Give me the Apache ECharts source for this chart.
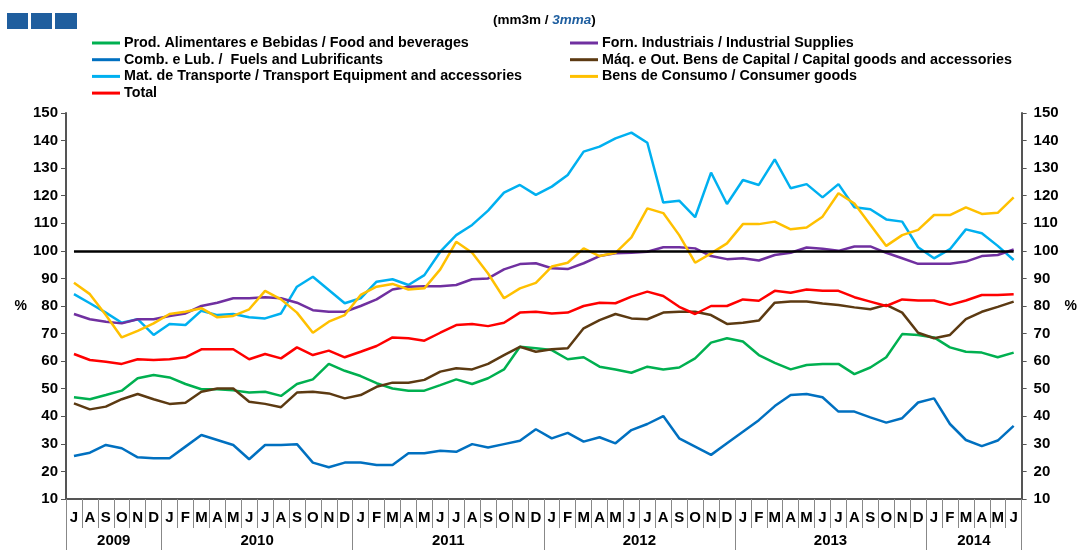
<!DOCTYPE html>
<html>
<head>
<meta charset="utf-8">
<script src="https://cdn.jsdelivr.net/npm/echarts@6/dist/echarts.min.js"></script>
<style>
  html, body { margin: 0; padding: 0; background: #fff; }
  #chart { width: 1080px; height: 550px; }
</style>
</head>
<body>
<div id="chart"></div>
<script>
// month letters, Jul 2009 .. Jun 2014
const months = [
  "J", "A", "S", "O", "N", "D",
  "J", "F", "M", "A", "M", "J", "J", "A", "S", "O", "N", "D",
  "J", "F", "M", "A", "M", "J", "J", "A", "S", "O", "N", "D",
  "J", "F", "M", "A", "M", "J", "J", "A", "S", "O", "N", "D",
  "J", "F", "M", "A", "M", "J", "J", "A", "S", "O", "N", "D",
  "J", "F", "M", "A", "M", "J"
];
const years = ["2009", "2010", "2011", "2012", "2013", "2014"];
const monthsPerYear = [6, 12, 12, 12, 12, 6];

const food = [46.9, 46.2, 47.7, 49.3, 53.8, 55.0, 54.1, 51.7, 49.8, 49.8, 49.4, 48.6, 48.9, 47.4, 51.7, 53.4, 59.0, 56.5, 54.6, 52.0, 50.1, 49.3, 49.3, 51.3, 53.4, 51.7, 53.8, 57.0, 65.2, 64.7, 64.0, 60.7, 61.4, 58.0, 57.0, 55.8, 58.0, 57.0, 57.7, 61.0, 66.7, 68.3, 67.1, 62.2, 59.4, 57.0, 58.6, 59.0, 59.0, 55.3, 57.7, 61.4, 69.8, 69.5, 68.6, 65.0, 63.4, 63.1, 61.4, 63.1];
const fuels = [25.6, 26.8, 29.6, 28.4, 25.1, 24.8, 24.8, 29.0, 33.2, 31.4, 29.6, 24.4, 29.6, 29.6, 29.9, 23.2, 21.5, 23.2, 23.2, 22.3, 22.3, 26.6, 26.6, 27.5, 27.1, 29.9, 28.7, 29.9, 31.1, 35.3, 32.0, 34.0, 30.8, 32.4, 30.2, 35.0, 37.2, 40.1, 32.0, 29.0, 26.0, 30.2, 34.4, 38.6, 43.7, 47.7, 48.1, 46.9, 41.7, 41.7, 39.6, 37.7, 39.3, 45.0, 46.5, 37.2, 31.4, 29.2, 31.2, 36.5];
const transport = [84.3, 81.0, 77.6, 73.9, 75.2, 69.5, 73.5, 73.1, 78.3, 76.7, 77.1, 75.9, 75.5, 77.3, 87.0, 90.6, 85.8, 81.0, 82.8, 88.8, 89.7, 87.6, 91.2, 99.7, 105.7, 109.4, 114.6, 121.1, 123.9, 120.3, 123.3, 127.5, 136.0, 137.8, 140.8, 142.9, 139.2, 117.5, 118.2, 112.2, 128.4, 117.0, 125.7, 123.9, 133.2, 122.7, 124.2, 119.4, 124.2, 115.8, 115.1, 111.4, 110.6, 101.3, 97.3, 100.6, 107.8, 106.4, 101.8, 96.7];
const total = [62.6, 60.4, 59.8, 59.0, 60.7, 60.4, 60.7, 61.4, 64.3, 64.3, 64.3, 60.7, 62.6, 61.0, 65.0, 62.2, 63.8, 61.4, 63.4, 65.5, 68.6, 68.3, 67.4, 70.3, 73.1, 73.5, 72.7, 73.9, 77.6, 77.9, 77.3, 77.6, 80.0, 81.2, 81.0, 83.4, 85.2, 83.6, 79.7, 77.1, 80.0, 80.0, 82.4, 81.9, 85.5, 84.8, 86.0, 85.5, 85.5, 83.2, 81.6, 80.0, 82.4, 82.0, 82.0, 80.4, 82.0, 84.0, 84.0, 84.3];
const industrial = [77.1, 75.2, 74.3, 73.7, 75.2, 75.2, 76.4, 77.3, 80.0, 81.2, 82.8, 82.8, 83.2, 82.8, 81.2, 78.5, 77.9, 77.9, 80.0, 82.4, 86.0, 87.0, 87.2, 87.2, 87.6, 89.7, 90.0, 93.3, 95.2, 95.5, 93.7, 93.4, 95.5, 98.1, 99.1, 99.3, 99.7, 101.3, 101.3, 100.9, 98.1, 97.0, 97.3, 96.5, 98.5, 99.3, 101.2, 100.8, 100.0, 101.6, 101.6, 99.3, 97.3, 95.3, 95.3, 95.3, 96.1, 98.1, 98.5, 100.5];
const capital = [44.7, 42.5, 43.5, 46.2, 48.1, 46.2, 44.5, 44.9, 48.9, 50.1, 50.1, 45.3, 44.5, 43.3, 48.6, 48.9, 48.3, 46.5, 47.7, 50.7, 52.2, 52.2, 53.2, 56.2, 57.4, 57.0, 59.0, 62.2, 65.2, 63.4, 64.3, 64.7, 71.9, 74.9, 77.1, 75.5, 75.2, 77.6, 77.9, 77.9, 76.7, 73.5, 73.9, 74.7, 81.2, 81.6, 81.6, 80.9, 80.4, 79.5, 78.8, 80.4, 77.6, 70.3, 68.3, 69.5, 75.2, 77.9, 79.7, 81.6];
const consumer = [88.4, 84.3, 76.7, 68.6, 71.0, 73.7, 77.1, 77.9, 79.2, 75.9, 76.4, 78.8, 85.5, 82.4, 77.6, 70.3, 74.3, 76.7, 84.0, 87.0, 88.0, 86.0, 86.4, 93.3, 103.3, 99.3, 91.8, 82.8, 86.4, 88.4, 94.3, 95.7, 100.9, 98.1, 99.3, 104.9, 115.4, 113.7, 105.7, 95.7, 99.1, 102.7, 109.7, 109.7, 110.6, 107.8, 108.5, 112.4, 120.9, 117.2, 109.5, 101.8, 105.7, 107.6, 113.0, 113.0, 115.8, 113.4, 113.8, 119.4];
const refLevel = 100;

const names = {
  food: "Prod. Alimentares e Bebidas / Food and beverages",
  fuels: "Comb. e Lub. /  Fuels and Lubrificants",
  transport: "Mat. de Transporte / Transport Equipment and accessories",
  total: "Total",
  industrial: "Forn. Industriais / Industrial Supplies",
  capital: "Máq. e Out. Bens de Capital / Capital goods and accessories",
  consumer: "Bens de Consumo / Consumer goods"
};

// year axis: one slot per month boundary (61), label at centre of each year, tick at year edges
const yearSlots = [];
const yearEdges = [0];
for (let k = 0; k <= months.length; k++) yearSlots.push("");
let start = 0;
years.forEach((y, i) => {
  yearSlots[start + monthsPerYear[i] / 2] = y;
  start += monthsPerYear[i];
  yearEdges.push(start);
});

const font = "Liberation Sans, Arial, sans-serif";
const chart = echarts.init(document.getElementById("chart"));

const line = (name, data, color) => ({
  name: name,
  type: "line",
  data: data,
  symbol: "none",
  lineStyle: { color: color, width: 2.5 },
  itemStyle: { color: color }
});

const totalSeries = line(names.total, total, "#ff0000");
totalSeries.markLine = {
  silent: true,
  symbol: "none",
  label: { show: false },
  lineStyle: { color: "#000", width: 2.5, type: "solid" },
  data: [[{ coord: [0, refLevel] }, { coord: [months.length - 1, refLevel] }]]
};

const legendText = { fontSize: 14.3, fontWeight: "bold", color: "#000", lineHeight: 16, padding: [0, 0, 0, -1] };

const option = {
  animation: false,
  textStyle: { fontFamily: font },
  title: {
    text: "(mm3m / {b|3mma})",
    left: 488,
    top: 8,
    textStyle: {
      fontSize: 13.5,
      fontWeight: "bold",
      color: "#000",
      rich: { b: { fontSize: 13.5, fontWeight: "bold", fontStyle: "italic", color: "#1f5fa0" } }
    }
  },
  graphic: [
    { type: "rect", shape: { x: 7, y: 13, width: 21, height: 16 }, style: { fill: "#1f5e9e" } },
    { type: "rect", shape: { x: 31, y: 13, width: 21, height: 16 }, style: { fill: "#1f5e9e" } },
    { type: "rect", shape: { x: 55, y: 13, width: 22, height: 16 }, style: { fill: "#1f5e9e" } }
  ],
  legend: [
    {
      orient: "vertical",
      left: 87,
      top: 30,
      icon: "rect",
      itemWidth: 28,
      itemHeight: 3,
      itemGap: 0.7,
      textStyle: legendText,
      data: [names.food, names.fuels, names.transport, names.total]
    },
    {
      orient: "vertical",
      left: 565,
      top: 30,
      icon: "rect",
      itemWidth: 28,
      itemHeight: 3,
      itemGap: 0.7,
      textStyle: legendText,
      data: [names.industrial, names.capital, names.consumer]
    }
  ],
  grid: { left: 66, right: 51, top: 113, bottom: 51 },
  xAxis: [
    {
      type: "category",
      data: months,
      boundaryGap: true,
      axisLine: { lineStyle: { color: "#555", width: 2 } },
      axisTick: { show: true, interval: 0, length: 29, lineStyle: { color: "#888", width: 1 } },
      axisLabel: { interval: 0, margin: 11, fontSize: 15, fontWeight: "bold", color: "#000" }
    },
    {
      type: "category",
      data: yearSlots,
      boundaryGap: false,
      position: "bottom",
      axisLine: { show: false },
      axisTick: {
        show: true,
        length: 51,
        interval: (i) => yearEdges.indexOf(i) >= 0,
        lineStyle: { color: "#888", width: 1 }
      },
      axisLabel: { interval: 0, margin: 34, fontSize: 15, fontWeight: "bold", color: "#000" }
    }
  ],
  yAxis: [
    {
      type: "value",
      min: 10,
      max: 150,
      interval: 10,
      name: "%",
      nameLocation: "middle",
      nameRotate: 0,
      nameGap: 38,
      nameTextStyle: { fontSize: 14, fontWeight: "bold", color: "#000" },
      axisLine: { show: true, lineStyle: { color: "#555", width: 2 } },
      axisTick: { show: true, length: 5, lineStyle: { color: "#555" } },
      axisLabel: { margin: 8, fontSize: 15, fontWeight: "bold", color: "#000" },
      splitLine: { show: false }
    },
    {
      type: "value",
      min: 10,
      max: 150,
      interval: 10,
      position: "right",
      name: "%",
      nameLocation: "middle",
      nameRotate: 0,
      nameGap: 42,
      nameTextStyle: { fontSize: 14, fontWeight: "bold", color: "#000" },
      axisLine: { show: true, lineStyle: { color: "#555", width: 2 } },
      axisTick: { show: true, length: 5, lineStyle: { color: "#555" } },
      axisLabel: { margin: 12, fontSize: 15, fontWeight: "bold", color: "#000" },
      splitLine: { show: false }
    }
  ],
  series: [
    line(names.food, food, "#00b050"),
    line(names.fuels, fuels, "#0070c0"),
    line(names.transport, transport, "#00b0f0"),
    line(names.industrial, industrial, "#7030a0"),
    line(names.capital, capital, "#5c3a12"),
    line(names.consumer, consumer, "#ffc000"),
    totalSeries
  ]
};

chart.setOption(option);
</script>
</body>
</html>
